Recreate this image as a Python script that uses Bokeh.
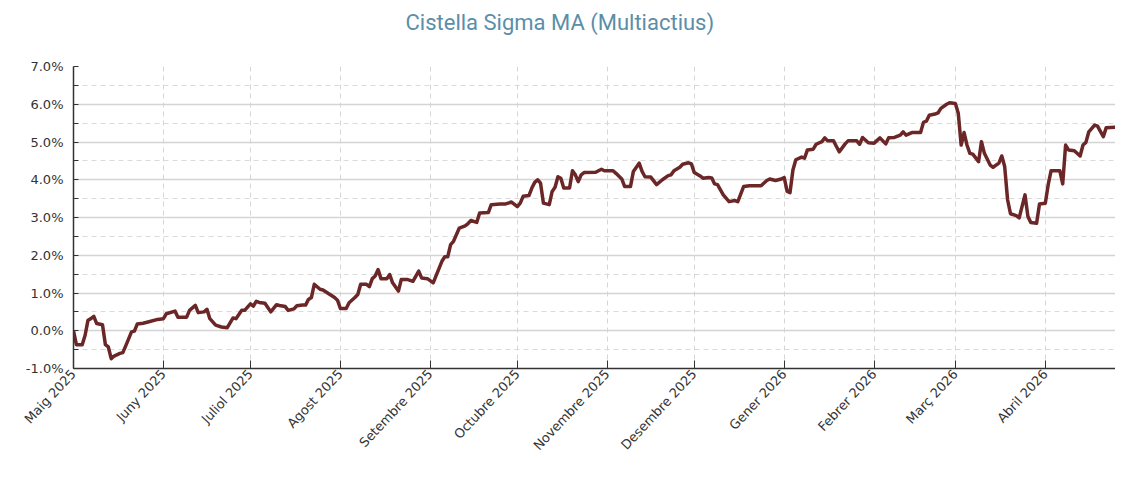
import math
import numpy as np
from bokeh.plotting import figure
from bokeh.models import FixedTicker, SingleIntervalTicker, PrintfTickFormatter, Range1d, ColumnDataSource, Title
from bokeh.embed import file_html
from bokeh.resources import INLINE

title_text = "Cistella Sigma MA (Multiactius)"

month_starts = ["2025-05-01", "2025-06-01", "2025-07-01", "2025-08-01", "2025-09-01", "2025-10-01",
                "2025-11-01", "2025-12-01", "2026-01-01", "2026-02-01", "2026-03-01", "2026-04-01"]
month_labels = ["Maig 2025", "Juny 2025", "Juliol 2025", "Agost 2025", "Setembre 2025", "Octubre 2025",
                "Novembre 2025", "Desembre 2025", "Gener 2026", "Febrer 2026", "Març 2026", "Abril 2026"]

dates = [
    "2025-05-01", "2025-05-02", "2025-05-04", "2025-05-05", "2025-05-06", "2025-05-07", "2025-05-08",
    "2025-05-09", "2025-05-11", "2025-05-12", "2025-05-13", "2025-05-14", "2025-05-15", "2025-05-17",
    "2025-05-18", "2025-05-19", "2025-05-21", "2025-05-22", "2025-05-23", "2025-05-25", "2025-05-27",
    "2025-05-30", "2025-06-01", "2025-06-02", "2025-06-05", "2025-06-06", "2025-06-09", "2025-06-10",
    "2025-06-12", "2025-06-13", "2025-06-15", "2025-06-16", "2025-06-17", "2025-06-19", "2025-06-21",
    "2025-06-23", "2025-06-25", "2025-06-26", "2025-06-28", "2025-06-29", "2025-07-01", "2025-07-02",
    "2025-07-03", "2025-07-04", "2025-07-06", "2025-07-08", "2025-07-10", "2025-07-11", "2025-07-13",
    "2025-07-14", "2025-07-16", "2025-07-17", "2025-07-19", "2025-07-20", "2025-07-21", "2025-07-22",
    "2025-07-23", "2025-07-25", "2025-07-26", "2025-07-28", "2025-07-30", "2025-07-31", "2025-08-01",
    "2025-08-03", "2025-08-04", "2025-08-06", "2025-08-07", "2025-08-08", "2025-08-10", "2025-08-11",
    "2025-08-12", "2025-08-13", "2025-08-14", "2025-08-15", "2025-08-17", "2025-08-18", "2025-08-19",
    "2025-08-21", "2025-08-22", "2025-08-24", "2025-08-26", "2025-08-28", "2025-08-29", "2025-08-31",
    "2025-09-02", "2025-09-03", "2025-09-05", "2025-09-06", "2025-09-07", "2025-09-08", "2025-09-09",
    "2025-09-11", "2025-09-13", "2025-09-14", "2025-09-15", "2025-09-17", "2025-09-18", "2025-09-21",
    "2025-09-22", "2025-09-25", "2025-09-27", "2025-09-29", "2025-10-01", "2025-10-02", "2025-10-03",
    "2025-10-05", "2025-10-06", "2025-10-07", "2025-10-08", "2025-10-09", "2025-10-10", "2025-10-12",
    "2025-10-13", "2025-10-14", "2025-10-15", "2025-10-16", "2025-10-17", "2025-10-19", "2025-10-20",
    "2025-10-21", "2025-10-22", "2025-10-23", "2025-10-24", "2025-10-28", "2025-10-30", "2025-10-31",
    "2025-11-03", "2025-11-04", "2025-11-06", "2025-11-07", "2025-11-09", "2025-11-10", "2025-11-12",
    "2025-11-13", "2025-11-14", "2025-11-16", "2025-11-18", "2025-11-20", "2025-11-22", "2025-11-23",
    "2025-11-24", "2025-11-26", "2025-11-27", "2025-11-29", "2025-11-30", "2025-12-01", "2025-12-03",
    "2025-12-04", "2025-12-06", "2025-12-07", "2025-12-08", "2025-12-09", "2025-12-11", "2025-12-13",
    "2025-12-15", "2025-12-16", "2025-12-18", "2025-12-20", "2025-12-24", "2025-12-26", "2025-12-27",
    "2025-12-29", "2025-12-31", "2026-01-01", "2026-01-02", "2026-01-03", "2026-01-04", "2026-01-05",
    "2026-01-07", "2026-01-08", "2026-01-09", "2026-01-11", "2026-01-12", "2026-01-14", "2026-01-15",
    "2026-01-16", "2026-01-18", "2026-01-19", "2026-01-20", "2026-01-22", "2026-01-23", "2026-01-26",
    "2026-01-27", "2026-01-28", "2026-01-30", "2026-02-01", "2026-02-03", "2026-02-05", "2026-02-06",
    "2026-02-08", "2026-02-10", "2026-02-11", "2026-02-12", "2026-02-14", "2026-02-17", "2026-02-18",
    "2026-02-19", "2026-02-20", "2026-02-22", "2026-02-23", "2026-02-24", "2026-02-26", "2026-02-27",
    "2026-03-01", "2026-03-02", "2026-03-03", "2026-03-04", "2026-03-05", "2026-03-06", "2026-03-07",
    "2026-03-09", "2026-03-10", "2026-03-11", "2026-03-13", "2026-03-14", "2026-03-16", "2026-03-17",
    "2026-03-18", "2026-03-19", "2026-03-20", "2026-03-22", "2026-03-23", "2026-03-25", "2026-03-26",
    "2026-03-27", "2026-03-29", "2026-03-30", "2026-04-01", "2026-04-02", "2026-04-03", "2026-04-06",
    "2026-04-07", "2026-04-08", "2026-04-09", "2026-04-11", "2026-04-13", "2026-04-14", "2026-04-15",
    "2026-04-16", "2026-04-18", "2026-04-19", "2026-04-21", "2026-04-22", "2026-04-25", "2026-04-27",
    "2026-04-28",
]

returns_pct = [
    0.00, -0.37, -0.37, -0.12, 0.28, 0.32, 0.38,
    0.19, 0.16, -0.37, -0.43, -0.74, -0.67, -0.60,
    -0.58, -0.40, -0.03, -0.01, 0.18, 0.20, 0.24,
    0.30, 0.32, 0.45, 0.52, 0.36, 0.36, 0.54,
    0.67, 0.48, 0.50, 0.57, 0.32, 0.15, 0.10,
    0.08, 0.34, 0.32, 0.54, 0.54, 0.71, 0.65,
    0.78, 0.75, 0.73, 0.50, 0.69, 0.67, 0.64,
    0.54, 0.58, 0.66, 0.68, 0.68, 0.83, 0.88,
    1.23, 1.10, 1.08, 0.98, 0.88, 0.81, 0.59,
    0.59, 0.74, 0.88, 0.96, 1.23, 1.23, 1.17,
    1.38, 1.45, 1.62, 1.38, 1.38, 1.49, 1.27,
    1.05, 1.36, 1.36, 1.31, 1.58, 1.40, 1.38,
    1.27, 1.46, 1.84, 1.96, 1.96, 2.28, 2.37,
    2.72, 2.78, 2.84, 2.92, 2.87, 3.12, 3.13,
    3.34, 3.36, 3.36, 3.41, 3.29, 3.38, 3.56,
    3.58, 3.78, 3.93, 4.00, 3.91, 3.38, 3.34,
    3.69, 3.80, 4.08, 4.04, 3.78, 3.78, 4.24,
    4.13, 3.95, 4.13, 4.19, 4.20, 4.28, 4.24,
    4.24, 4.17, 4.02, 3.82, 3.82, 4.22, 4.44,
    4.22, 4.08, 4.07, 3.87, 4.00, 4.11, 4.13,
    4.24, 4.33, 4.41, 4.45, 4.42, 4.19, 4.10,
    4.04, 4.06, 4.05, 3.89, 3.87, 3.60, 3.42,
    3.45, 3.42, 3.82, 3.84, 3.84, 3.98, 4.02,
    3.98, 4.02, 4.06, 3.69, 3.66, 4.26, 4.53,
    4.60, 4.57, 4.79, 4.81, 4.94, 5.01, 5.11,
    5.03, 5.03, 4.88, 4.74, 4.95, 5.03, 5.03,
    4.94, 5.12, 4.98, 4.97, 5.11, 4.95, 5.11,
    5.12, 5.18, 5.27, 5.18, 5.25, 5.25, 5.52,
    5.55, 5.71, 5.74, 5.77, 5.89, 6.00, 6.04,
    6.02, 5.76, 4.92, 5.25, 4.92, 4.70, 4.68,
    4.48, 5.01, 4.70, 4.39, 4.33, 4.44, 4.63,
    4.35, 3.47, 3.10, 3.05, 2.99, 3.60, 3.03,
    2.87, 2.85, 3.36, 3.38, 3.87, 4.24, 4.24,
    3.89, 4.92, 4.79, 4.77, 4.63, 4.92, 4.99,
    5.27, 5.45, 5.42, 5.14, 5.38, 5.39, 5.36,
    5.25,
]

origin = np.datetime64(month_starts[0])
x_days = [(np.datetime64(d) - origin).astype(int).item() for d in dates]
tick_days = [(np.datetime64(d) - origin).astype(int).item() for d in month_starts]

src = ColumnDataSource(data=dict(x=x_days, y=returns_pct))

W, H = 1115, 461
p = figure(width=W, height=H, output_backend="svg", toolbar_location=None, title=None,
           x_range=Range1d(0, 359.2), y_range=Range1d(-1, 7),
           min_border_left=73, min_border_right=0, min_border_top=66, min_border_bottom=91,
           background_fill_color="white", border_fill_color="white")
p.outline_line_color = None

# invisible spacer between frame and title, then the title itself
p.add_layout(Title(text=" ", text_font_size="1px", standoff=29), "above")
p.add_layout(Title(text=title_text, text_font="Roboto", text_font_size="22px",
                   text_font_style="normal", text_color="#5b8ea8",
                   align="left", offset=332, standoff=0), "above")

# x axis
p.xaxis.ticker = FixedTicker(ticks=tick_days)
p.xaxis.major_label_overrides = {t: lab for t, lab in zip(tick_days, month_labels)}
p.xaxis.major_label_orientation = math.radians(47)
p.xaxis.major_label_text_font = "DejaVu Sans"
p.xaxis.major_label_text_font_size = "13px"
p.xaxis.major_label_text_color = "#333333"
p.xaxis.major_tick_in = 8
p.xaxis.major_tick_out = 0
p.xaxis.minor_tick_line_color = None
p.xaxis.axis_line_color = "#333333"
p.xaxis.axis_line_width = 1.5
p.xaxis.major_tick_line_color = "#333333"
p.xaxis.major_label_standoff = 3

# y axis
p.yaxis.ticker = SingleIntervalTicker(interval=1, num_minor_ticks=2)
p.yaxis.formatter = PrintfTickFormatter(format="%.1f%%")
p.yaxis.major_label_text_font = "DejaVu Sans"
p.yaxis.major_label_text_font_size = "13px"
p.yaxis.major_label_text_color = "#333333"
p.yaxis.major_tick_in = 0
p.yaxis.major_tick_out = 0
p.yaxis.minor_tick_in = 5
p.yaxis.minor_tick_out = 0
p.yaxis.minor_tick_line_color = "#333333"
p.yaxis.axis_line_color = "#333333"
p.yaxis.axis_line_width = 1.5
p.yaxis.major_label_standoff = 10

# grids
p.xgrid.ticker = FixedTicker(ticks=tick_days)
p.xgrid.grid_line_color = "#d6d6d6"
p.xgrid.grid_line_dash = "5 4"
p.xgrid.grid_line_width = 1
p.ygrid.grid_line_color = "#d4d4d4"
p.ygrid.grid_line_width = 1.5
p.ygrid.minor_grid_line_color = "#dadada"
p.ygrid.minor_grid_line_dash = "5 4"
p.ygrid.minor_grid_line_width = 1

p.line("x", "y", source=src, line_color="#6b2727", line_width=3.5, line_join="round")

open("out.html", "w").write(file_html(p, INLINE))
